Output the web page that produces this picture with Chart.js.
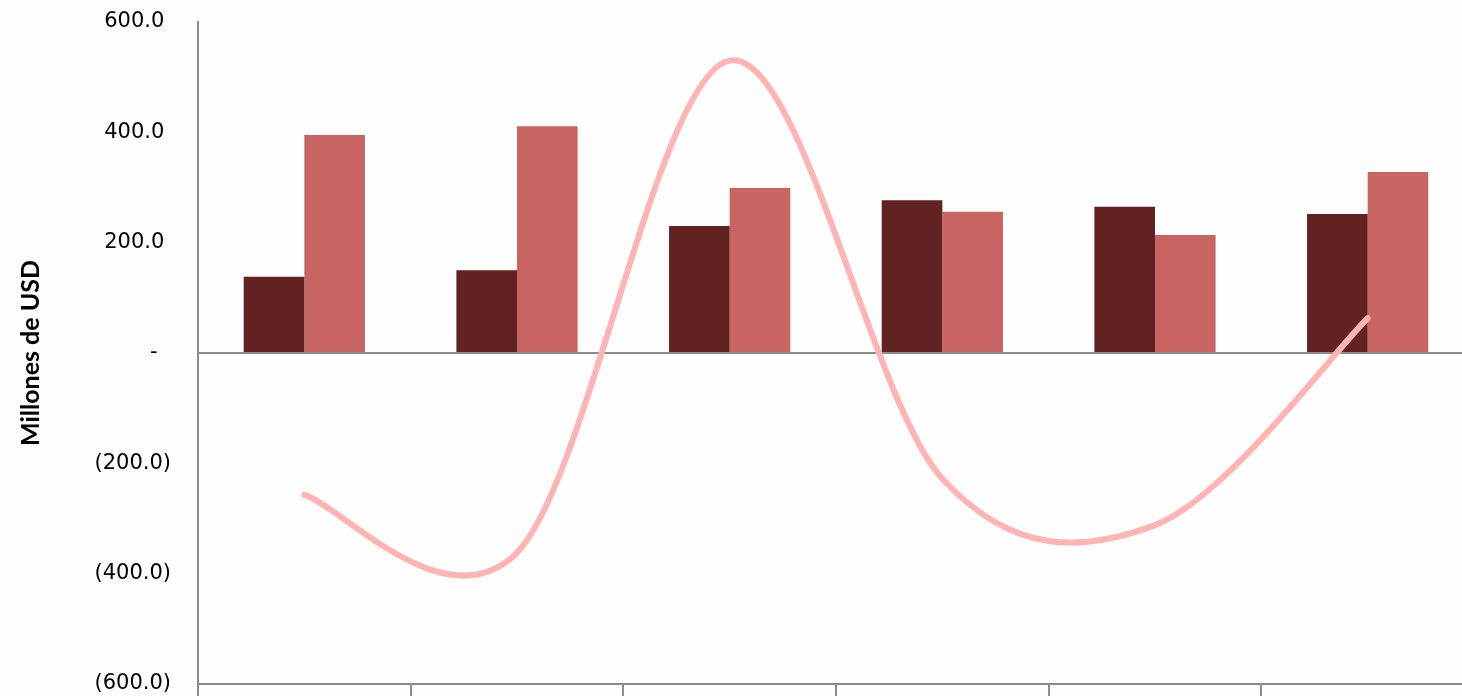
<!DOCTYPE html>
<html>
<head>
<meta charset="utf-8">
<script src="https://cdn.jsdelivr.net/npm/chart.js@4"></script>
<style>
  html, body { margin: 0; padding: 0; background: #fdfdfd; overflow: hidden; }
  #wrap { position: absolute; left: 0; top: 0; width: 1474px; height: 696px; }
</style>
</head>
<body>
<div id="wrap"><canvas id="grafico"></canvas></div>
<script>
// categorias (etiquetas del eje x no visibles en la imagen)
const categorias = ['1', '2', '3', '4', '5', '6'];
// barras oscuras y claras, linea (millones de USD)
const serieOscura = [138, 150, 230, 277, 265, 252];
const serieClara = [395, 411, 299, 256, 214, 328];
const serieLinea = [-257, -362, 530, -228, -312, 63];
const ticksY = [-600, -400, -200, 0, 200, 400, 600];

function formatoContable(v) {
  if (v === 0) return '-  ';
  if (v < 0) return '(' + Math.abs(v).toFixed(1) + ')';
  return v.toFixed(1) + ' ';
}

// suavizado tipo Excel (Catmull-Rom uniforme) sobre los puntos ya ubicados por las escalas
const suavizadoExcel = {
  id: 'suavizadoExcel',
  beforeDatasetDraw(chart, args) {
    const meta = args.meta;
    if (meta.type !== 'line') return;
    meta.dataset.updateControlPoints(chart.chartArea);
    const pts = meta.data;
    for (let i = 0; i < pts.length; i++) {
      const prev = pts[Math.max(i - 1, 0)];
      const next = pts[Math.min(i + 1, pts.length - 1)];
      const dx = (next.x - prev.x) / 6;
      const dy = (next.y - prev.y) / 6;
      pts[i].cp1x = pts[i].x - dx;
      pts[i].cp1y = pts[i].y - dy;
      pts[i].cp2x = pts[i].x + dx;
      pts[i].cp2y = pts[i].y + dy;
    }
  }
};

const gris = '#8c8c8c';
const ctx = document.getElementById('grafico').getContext('2d');
new Chart(ctx, {
  type: 'bar',
  data: {
    labels: categorias,
    datasets: [
      {
        type: 'line',
        data: serieLinea,
        borderColor: '#ffb3b3',
        borderWidth: 6,
        borderCapStyle: 'round',
        pointRadius: 0,
        tension: 0.4,
        fill: false,
        order: 0
      },
      {
        data: serieOscura,
        backgroundColor: '#622222',
        categoryPercentage: 0.57,
        barPercentage: 1,
        order: 1
      },
      {
        data: serieClara,
        backgroundColor: '#c86562',
        categoryPercentage: 0.57,
        barPercentage: 1,
        order: 1
      }
    ]
  },
  plugins: [suavizadoExcel],
  options: {
    responsive: true,
    maintainAspectRatio: false,
    animation: false,
    layout: { padding: { top: 22, left: 0, right: 0, bottom: 0 } },
    plugins: { legend: { display: false }, tooltip: { enabled: false } },
    scales: {
      x: {
        ticks: { display: false },
        grid: {
          offset: true,
          drawOnChartArea: false,
          drawTicks: true,
          tickLength: 12,
          color: gris,
          lineWidth: 2
        },
        border: { display: true, color: gris, width: 2 },
        afterFit: function (axis) {
          axis.height = 12;
          axis.paddingLeft = 0;
          axis.paddingRight = 0;
        }
      },
      y: {
        min: -600,
        max: 600,
        afterBuildTicks: function (axis) {
          axis.ticks = ticksY.map(v => ({ value: v }));
        },
        ticks: {
          callback: v => formatoContable(v),
          color: '#000',
          font: { family: 'DejaVu Sans', size: 21 },
          padding: 27
        },
        grid: {
          drawTicks: false,
          color: c => (c.tick && c.tick.value === 0 ? gris : 'rgba(0,0,0,0)'),
          lineWidth: 2
        },
        border: { display: true, color: gris, width: 2 },
        title: {
          display: true,
          text: 'Millones de USD',
          color: '#000',
          font: { family: 'Lato', size: 25, weight: 'bold' },
          padding: { top: 16, bottom: 0 }
        },
        afterFit: function (axis) {
          axis.width = 198;
          axis.paddingTop = 0;
          axis.paddingBottom = 0;
        }
      }
    }
  }
});
</script>
</body>
</html>
